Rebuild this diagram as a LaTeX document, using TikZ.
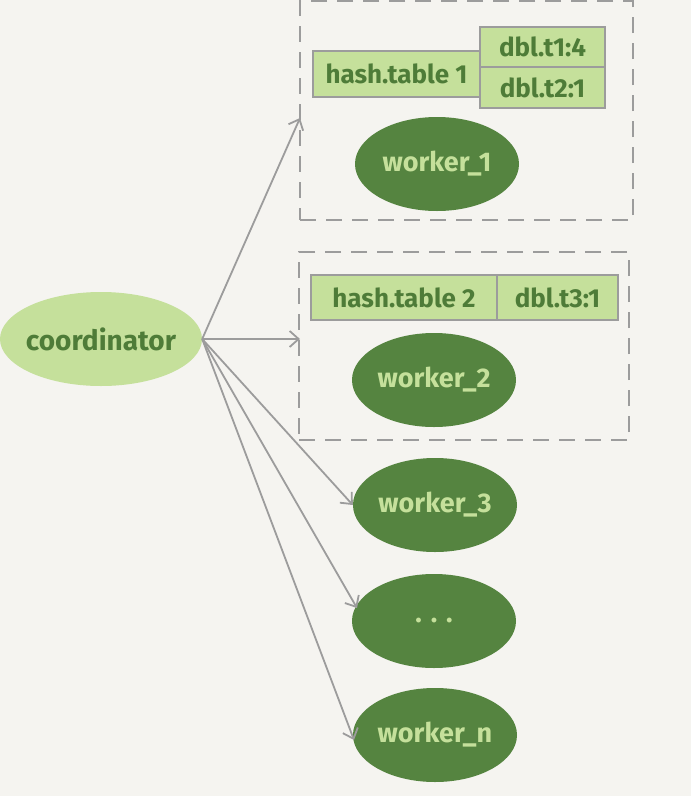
\documentclass[tikz,border=0pt]{standalone}
\usepackage{fontspec}
\setmainfont{Fira Sans}
\usetikzlibrary{shapes.geometric,arrows.meta}
\definecolor{bg}{HTML}{F5F4F0}
\definecolor{lgreen}{HTML}{C5E09B}
\definecolor{dgreen}{HTML}{558440}
\definecolor{tgreen}{HTML}{4E7C38}
\definecolor{lgrey}{HTML}{9C9C9C}
\tikzset{
  worker/.style={ellipse,fill=dgreen,minimum width=164pt,minimum height=94pt,inner sep=0pt,
    text=lgreen,font=\fontsize{27}{29}\selectfont\bfseries},
  coord/.style={ellipse,fill=lgreen,minimum width=202pt,minimum height=94pt,inner sep=0pt,
    inner xsep=-6pt,text=tgreen,font=\fontsize{28}{30}\selectfont\bfseries},
  cell/.style={rectangle,draw=lgrey,line width=2pt,fill=lgreen,inner sep=0pt,
    text=tgreen,font=\fontsize{26}{28}\selectfont\bfseries},
  group/.style={rectangle,draw=lgrey,line width=2.2pt,dash pattern=on 16pt off 10pt,inner sep=0pt},
  conn/.style={draw=lgrey,line width=1.8pt,-{Straight Barb[length=9pt,width=16pt,line width=1.8pt]}}
}
\begin{document}
\begin{tikzpicture}[x=1pt,y=-1pt]
\fill[bg] (0,0) rectangle (691,796);
\useasboundingbox (0,0) rectangle (691,796);
% groups
\node[group,minimum width=333pt,minimum height=219pt] (box1) at (466.5,110.5) {};
\node[group,minimum width=330pt,minimum height=188pt] (box2) at (464,346) {};
% tables
\node[cell,minimum width=167pt,minimum height=46pt] (ht1) at (396.5,74) {hash.table 1};
\node[cell,minimum width=125pt,minimum height=40pt] (t1) at (542.5,47) {dbl.t1:4};
\node[cell,minimum width=125pt,minimum height=41pt] (t2) at (542.5,87.5) {dbl.t2:1};
\node[cell,minimum width=186pt,minimum height=45pt] (ht2) at (404,297.5) {hash.table 2};
\node[cell,minimum width=121pt,minimum height=45pt] (t3) at (557.5,297.5) {dbl.t3:1};
% ellipses
\node[coord] (c) at (101,339) {coordinator};
\node[worker] (w1) at (437,164) {worker\_1};
\node[worker] (w2) at (434,380) {worker\_2};
\node[worker] (w3) at (435,505) {worker\_3};
\node[worker] (wd) at (434,621) {.\,\,.\,\,.};
\node[worker] (wn) at (435,735) {worker\_n};
% connectors
\coordinate (a1) at (300,118);
\coordinate (a2) at (300,339);
\coordinate (ad) at (357,608);
\coordinate (an) at (354,740);
\draw[conn] (c.east) -- (a1);
\draw[conn] (c.east) -- (a2);
\draw[conn] (c.east) -- (w3.west);
\draw[conn] (c.east) -- (ad);
\draw[conn] (c.east) -- (an);
\end{tikzpicture}
\end{document}
